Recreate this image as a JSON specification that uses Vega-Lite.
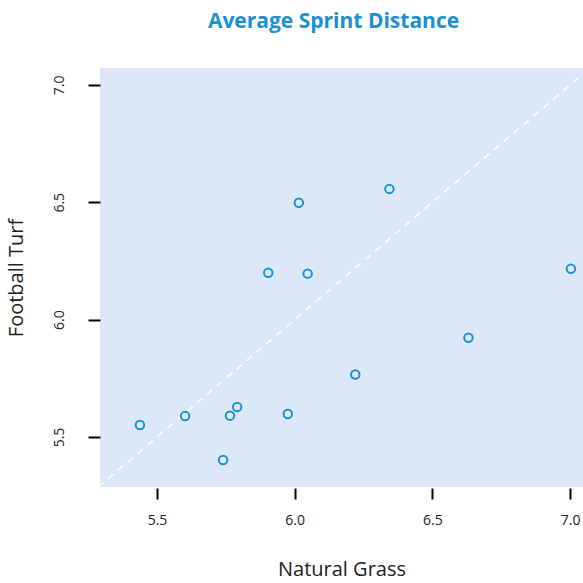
{
  "$schema": "https://vega.github.io/schema/vega-lite/v6.json",
  "autosize": "none",
  "width": 483,
  "height": 419,
  "padding": {"left": 100, "top": 68, "right": 0, "bottom": 96},
  "background": "white",
  "config": {
    "view": {"fill": "#dce8f7", "stroke": null},
    "font": "Open Sans"
  },
  "title": {
    "text": "Average Sprint Distance",
    "color": "#1a8fd2",
    "fontSize": 21,
    "fontWeight": "bold",
    "font": "Open Sans",
    "anchor": "middle",
    "frame": "group",
    "dx": -8,
    "offset": 36
  },
  "datasets": {
    "pts": [
      {"grass": 5.438, "turf": 5.551},
      {"grass": 5.602, "turf": 5.589},
      {"grass": 5.765, "turf": 5.591},
      {"grass": 5.791, "turf": 5.628},
      {"grass": 5.740, "turf": 5.402},
      {"grass": 5.904, "turf": 6.200},
      {"grass": 5.975, "turf": 5.598},
      {"grass": 6.015, "turf": 6.498},
      {"grass": 6.047, "turf": 6.196},
      {"grass": 6.220, "turf": 5.766},
      {"grass": 6.344, "turf": 6.557},
      {"grass": 6.631, "turf": 5.923},
      {"grass": 7.003, "turf": 6.217}
    ],
    "diag": [
      {"grass": 5.25, "turf": 5.25},
      {"grass": 7.1, "turf": 7.1}
    ]
  },
  "layer": [
    {
      "data": {"name": "diag"},
      "mark": {"type": "line", "color": "white", "strokeDash": [7, 6], "strokeWidth": 1.5, "clip": true},
      "encoding": {
        "x": {"field": "grass", "type": "quantitative"},
        "y": {"field": "turf", "type": "quantitative"}
      }
    },
    {
      "data": {"name": "pts"},
      "mark": {"type": "point", "shape": "circle", "filled": false, "color": "#1a93d3", "strokeWidth": 2, "size": 72, "opacity": 1},
      "encoding": {
        "x": {
          "field": "grass", "type": "quantitative",
          "scale": {"domain": [5.293, 7.047], "nice": false, "zero": false},
          "axis": {
            "title": "Natural Grass", "values": [5.5, 6.0, 6.5, 7.0], "format": ".1f",
            "domain": false, "grid": false, "tickColor": "black", "tickWidth": 2, "tickSize": 11, "offset": 1,
            "labelFontSize": 14, "labelColor": "#222", "labelPadding": 14,
            "titleFontSize": 20, "titleFontWeight": "normal", "titleColor": "#222", "titlePadding": 32
          }
        },
        "y": {
          "field": "turf", "type": "quantitative",
          "scale": {"domain": [5.287, 7.072], "nice": false, "zero": false},
          "axis": {
            "title": "Football Turf", "values": [5.5, 6.0, 6.5, 7.0], "format": ".1f",
            "domain": false, "grid": false, "tickColor": "black", "tickWidth": 2, "tickSize": 12, "offset": 0,
            "labelFontSize": 14, "labelColor": "#222", "labelAngle": 270, "labelAlign": "center", "labelBaseline": "bottom", "labelPadding": 22,
            "titleFontSize": 20, "titleFontWeight": "normal", "titleColor": "#222", "titlePadding": 26
          }
        }
      }
    }
  ]
}
